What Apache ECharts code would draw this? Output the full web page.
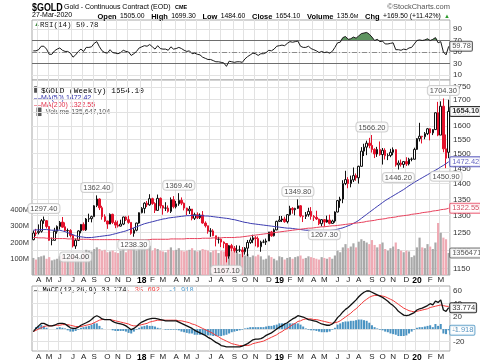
<!DOCTYPE html>
<html><head><meta charset="utf-8">
<script src="https://cdn.jsdelivr.net/npm/echarts@6/dist/echarts.min.js"></script>
<style>html,body{margin:0;padding:0;background:#fff}#c{width:480px;height:363px}</style>
</head><body><div id="c"></div>
<script>
// ---------------- DATA (weekly, 24-Mar-2017 .. 27-Mar-2020) ----------------
const opens = [
1230,1249,1250,1254,1286,1285,1268,1228,1228,1254,1268,1281,1267,1256,1256,1242,1212,1228,1255,1274,
1258,1290,1291,1297,1331,1351,1324,1297,1284,1275,1304,1280,1272,1269,1275,1296,1288,1280,1248,1257,1278,
1309,1322,1338,1333,1352,1337,1316,1353,1330,1323,1323,1313,1349,1327,1336,1347,1338,1323,1315,1320,
1292,1303,1294,1302,1278,1270,1254,1255,1241,1231,1231,1223,1219,1184,1213,1206,1199,1201,1201,1196,
1206,1222,1229,1235,1233,1210,1223,1223,1226,1252,1241,1258,
1283,1287,1290,1282,1303,1322,1318,1322,1330,1299,1298,1303,1313,1298,1295,1290,1276,1288,1281,1287,
1277,1284,1311,1346,1351,1400,1413,1400,1412,1426,1419,1457,1509,1523,1537,1529,1515,1499,1515,1497,
1512,1493,1494,1505,1514,1462,1468,1463,1473,1465,1481,1481,
1515,1553,1562,1560,1571,1589,1574,1586,1649,1566,1674,1517,1505];
const highs = [
1256,1261,1274,1290,1297.4,1287,1269,1236,1264,1271,1284,1296,1280,1262,1260,1245,1233,1257,1275,1280,
1293,1306,1300,1332,1362.4,1353,1330,1304,1285,1307,1306,1286,1285,1288,1297,1298,1300,1280,1263,1279,1310,
1326,1341,1345,1366,1355,1341,1365,1356,1332,1341,1331,1356,1360,1345,1369.4,1356,1340,1324,1329,1320,
1309,1310,1307,1314,1283,1270,1263,1260,1241,1238,1233,1225,1220,1215,1218,1212,1214,1213,1209,1209,
1229,1236,1244,1240,1239,1227,1230,1233,1252,1255,1262,1285,
1299,1299,1297,1305,1330,1326,1324,1349.8,1332,1300,1311,1324,1326,1302,1315,1291,1290,1290,1300,1303,
1288,1313,1348,1358,1411,1442,1421,1426,1453,1433,1459,1523,1535,1546,1556,1566.2,1519,1524,1543,1520,
1519,1501,1517,1522,1516,1477,1480,1475,1488,1486,1487,1521,
1555,1611,1563,1577,1592,1590,1588,1650,1691,1693,1704.3,1568,1699.3];
const lows = [
1228,1240,1245,1250,1276,1262,1227,1214,1228,1247,1259,1264,1252,1237,1236,1208,1204,1226,1248,1256,
1255,1281,1280,1297,1326,1317,1288,1281,1261,1275,1275,1263,1265,1268,1272,1284,1276,1244,1238.3,1254,1276,
1307,1307,1326,1330,1333,1308,1315,1322,1303,1314,1309,1308,1322,1322,1330,1332,1316,1302,1305,1286,
1287,1290,1290,1276,1265,1247,1238,1240,1211,1219,1209,1206,1167.1,1177,1197,1194,1193,1195,1181,1188,
1184,1218,1220,1211,1208,1196,1220,1215,1226,1238,1239,1257,
1281,1281,1279,1277,1300,1306,1301,1320,1295,1281,1290,1297,1288,1284,1287,1272,1268,1267.3,1279,1274,
1276,1279,1310,1324,1338,1395,1385,1388,1405,1409,1400,1456,1492,1495,1519,1504,1485,1489,1493,1463,
1480,1478,1488,1495,1456,1446.2,1456,1452,1458,1460,1474,1480,
1513,1543,1536,1551,1566,1547,1566,1585,1562,1566,1505,1450.9,1484.6];
const closes = [
1249,1247,1254,1285,1288,1268,1228,1228,1254,1268,1280,1266,1256,1256,1242,1212,1228,1255,1274,1258,
1290,1291,1297,1330,1351,1324,1297,1284,1275,1304,1280,1272,1269,1275,1296,1288,1280,1248,1257,1278,1309,
1322,1338,1333,1352,1337,1316,1353,1330,1323,1323,1313,1349,1327,1336,1347,1338,1323,1315,1320,1292,
1303,1294,1302,1278,1270,1254,1255,1241,1231,1231,1223,1219,1184,1213,1206,1199,1201,1201,1196,1206,
1222,1229,1235,1233,1210,1223,1223,1226,1252,1241,1258,1283,
1287,1290,1282,1303,1322,1318,1322,1330,1299,1298,1303,1313,1298,1295,1290,1276,1288,1281,1287,1277,
1284,1311,1346,1351,1400,1413,1400,1412,1426,1419,1457,1509,1523,1537,1529,1515,1499,1515,1497,1512,
1493,1494,1505,1514,1462,1468,1463,1473,1465,1481,1481,1515,
1553,1562,1560,1571,1589,1574,1586,1649,1566,1674,1517,1484.6,1654.1];
// volume in millions of contracts
const volumeM = [
105,95,110,115,120,100,110,90,95,100,115,120,95,100,110,125,115,105,120,140,
155,150,145,160,170,160,150,155,140,145,150,140,135,150,165,140,160,175,170,150,170,
180,175,160,180,150,165,160,150,145,140,155,170,150,155,165,150,145,150,155,165,
150,145,150,160,155,150,140,150,155,135,150,145,170,160,145,150,140,130,140,120,
130,110,120,115,125,115,95,100,120,110,100,90,
115,110,95,105,110,100,110,115,120,100,105,115,110,105,100,95,110,105,100,110,
100,120,150,140,170,190,165,175,195,170,205,220,210,200,190,215,185,170,190,200,
160,150,165,175,200,160,150,140,150,145,110,120,
170,230,170,165,190,175,160,200,320,260,230,220,135.647104];
const ma50 = [
1257,1258,1258,1259,1259,1259,1258,1257,1257,1257,1257,
1255,1253,1250,1247,1244,1241,1239,1238,1237,1236,1236,1236,
1237,1238,1239,1240,1241,1242,1243,1245,1247,1249,1251,1253,1255,
1258,1261,1264,1267,1270,1273,1276,1278,1280,1282,1284,1286,1288,1290,1291,
1293,1294,1295,1296,1297,1298,1299,1300,1300,1301,1301,1300,1300,
1300,1299,1299,1298,1297,1296,1295,1294,1293,1292,1291,1289,1288,1286,1284,
1282,1280,1279,1277,1276,1275,1274,1273,1272,1271,1270,1269,1268,1267,1266,1265,1264,1263,1263,1262,
1261,1260,1259,1258,1257,1257,1256,1256,1255,1255,1255,1255,1256,1256,1257,
1258,1260,1262,1264,1267,1270,1273,1277,1281,1286,1292,1298,
1304,1310,1316,1322,1328,1334,1340,1346,1351,1356,1361,1366,1371,1376,1381,
1387,1393,1398,1404,1409,1414,1419,1424,1429,1434,1439,1444,1449,1455,1460,1466,1472.42];
const ma200 = [
1236,1236,1235,1235,1235,1234,1234,1234,1233,1233,1233,1233,1233,1232,1232,1232,1232,1231,1231,1231,1231,
1231,1230,1230,1230,1230,1230,1230,1230,1230,1230,1230,1230,1230,1230,1230,1230,1230,1230,1230,1230,
1230,1230,1230,1230,1231,1231,1231,1231,1231,1231,1231,1232,1232,1232,1232,1232,1232,1233,1233,1233,
1233,1233,1233,1234,1234,1234,1234,1235,1235,1235,1235,1236,1236,1236,1236,1236,1237,1237,1238,1239,
1240,1241,1242,1243,1244,1245,1246,1247,1248,1249,1250,1251,1252,1253,1254,1255,1256,1257,1258,1259,
1260,1261,1262,1263,1263,1264,1265,1266,1267,1267,1268,1269,1270,1270,1271,1272,1273,1274,1275,1276,
1277,1278,1279,1280,1281,1283,1284,1285,1286,1288,1289,1290,1291,1293,1294,1295,1296,1298,1299,1300,
1301,1302,1304,1305,1306,1307,1309,1310,1311,1312,1314,1315,1316,1318,1319,1320,1322.55];
const rsi14 = [
52,52,54,60,60,55,46,46,52,55,57,53,51,51,48,41,45,51,55,51,
58,58,59,65,68,59,52,49,48,54,49,48,47,49,53,51,50,44,47,51,57,
59,61,60,63,59,55,61,56,55,55,53,59,55,56,58,56,53,51,52,47,
48,46,45,41,39,37,37,35,33,33,32,31,25,34,33,32,33,33,32,38,
42,45,48,47,44,47,47,49,53,52,55,60,
61,62,61,65,68,67,68,69,60,58,58,60,56,54,52,49,51,49,50,48,
51,58,66,67,75,77,72,73,76,74,78,82,83,84,81,76,70,72,68,69,
64,64,65,66,54,54,53,55,54,57,58,64,
70,71,70,71,73,70,72,75,66,68,50,45,59.78];
const macdLine = [
-4,1,5,9,9,7,5,5,6,8,9,9,8,5,2,1,1,3,6,8,
10,12,15,19,21,19,16,15,15,15,12,10,9,8,7,5,2,-1,1,4,8,
11,13,15,16,17,17,16,15,14,13,13,13,13,13,11,9,7,5,3,1,
-2,-4,-6,-8,-10,-13,-15,-18,-21,-23,-26,-27,-28,-28,-28,-28,-28,-28,-27,-25,
-23,-20,-17,-16,-16,-15,-13,-10,-8,-6,-3,0,
3,5,8,10,13,16,18,21,20,19,17,15,14,13,12,10,8,7,6,6,
8,12,18,22,27,31,34,38,42,46,51,55,58,60,60,58,56,54,52,50,
47,44,40,37,33,28,25,22,21,22,24,26,
30,32,33,35,37,40,38,44,42,46,30,28,33.774];
const signalLine = [
-4,-2,0,2,4,5,5,5,6,6,6,7,7,7,6,5,4,4,4,5,
6,7,8,10,12,14,15,15,15,15,14,13,12,11,10,9,8,6,5,5,6,
7,8,9,11,12,13,14,14,14,14,14,14,14,14,13,13,12,11,10,8,
7,5,3,1,-1,-3,-5,-7,-10,-12,-15,-17,-19,-21,-23,-24,-25,-26,-26,-26,
-26,-25,-23,-22,-21,-20,-19,-17,-15,-13,-11,-9,
-6,-4,-1,1,4,7,9,12,13,15,16,16,16,15,15,14,13,12,11,10,
9,10,11,13,16,19,22,25,29,32,36,40,44,47,50,52,53,53,53,52,
51,49,47,45,42,39,36,33,31,29,28,27,
28,29,30,31,32,34,35,36,37,38,37,36,35.692];
const macdHist = [
0,3,5,7,5,2,0,0,0,2,3,2,1,-2,-4,-4,-3,-1,2,3,
4,5,7,9,9,5,1,0,0,0,-2,-3,-3,-3,-3,-4,-6,-7,-4,-1,2,
4,5,6,5,5,4,2,1,0,-1,-1,-1,-1,-1,-2,-4,-5,-6,-7,-7,
-9,-9,-9,-9,-9,-10,-10,-11,-11,-11,-11,-10,-9,-7,-5,-4,-3,-2,-1,1,
2,3,3,3,3,3,3,4,5,5,6,7,
9,9,9,9,9,9,9,9,7,4,1,-1,-2,-2,-3,-4,-5,-5,-5,-4,
-1,2,7,9,11,12,12,13,13,14,15,15,14,13,10,6,3,1,-1,-2,
-4,-5,-7,-8,-9,-11,-11,-11,-10,-7,-4,-1,
2,3,3,4,5,6,3,8,5,8,-7,-8,-1.918];
const priceTicks = [1150,1200,1250,1300,1350,1400,1450,1500,1550,1600,1650,1700,1750];
const rsiTicks = [10,30,50,70,90];
const macdTicks = [-20,0,20,40,60];
const peakIdx = [4,24,55,100,128,155];
const troughIdx = [16,38,73,110,138,156];

// ---------------- BUILD ----------------
const N = closes.length;
const weeks = [];
for (let i = 0; i < N; i++) {
  const d = new Date(Date.UTC(2017, 2, 24 + 7 * i));
  weeks.push(d.toISOString().slice(0, 10));
}
const isMonthStart = weeks.map((w, i) => i > 0 && w.slice(5, 7) !== weeks[i - 1].slice(5, 7));
const monthLabel = v => {
  const m = +v.slice(5, 7);
  return m === 1 ? '{y|' + v.slice(2, 4) + '}' : 'JFMAMJJASOND'[m - 1];
};
const L = Math.log;
const FONT = '"Liberation Sans", Arial, sans-serif';
const MONO = '"Liberation Mono", "DejaVu Sans Mono", monospace';
const GRID_LINE = '#e2e2e2';

const grids = [
  {left: 32, right: 30, top: 20, height: 60},
  {left: 32, right: 30, top: 80, height: 195},
  {left: 32, right: 30, top: 286, height: 65}
].map(g => Object.assign(g, {show: true, borderColor: '#a8a8a8', borderWidth: 1, backgroundColor: '#fff'}));

const xAxes = [0, 1, 2].map(gi => ({
  type: 'category', gridIndex: gi, data: weeks, boundaryGap: true,
  axisLine: {show: false}, axisTick: {show: false},
  axisLabel: {
    show: gi > 0, interval: i => isMonthStart[i], formatter: v => monthLabel(v),
    fontSize: 8, color: '#222', fontFamily: FONT, margin: gi === 1 ? 1 : 2,
    rich: {y: {fontWeight: 'bold', fontSize: 8.5, color: '#000', fontFamily: FONT}}
  },
  splitLine: {show: true, interval: i => isMonthStart[i], lineStyle: {color: GRID_LINE, width: 1}}
}));

const rightLabel = {fontSize: 8, color: '#333', fontFamily: FONT, margin: 3};
const yAxes = [
  { // RSI
    type: 'value', gridIndex: 0, position: 'right', min: 1.3, max: 105.65,
    axisLine: {show: false}, axisTick: {show: false, customValues: rsiTicks},
    axisLabel: Object.assign({customValues: rsiTicks}, rightLabel),
    splitLine: {show: true, lineStyle: {color: GRID_LINE}}
  },
  { // price (log)
    type: 'value', gridIndex: 1, position: 'right', min: L(1133.5), max: L(1778.5),
    axisLine: {show: false}, axisTick: {show: false, customValues: priceTicks.map(L)},
    axisLabel: Object.assign({customValues: priceTicks.map(L), formatter: v => String(Math.round(Math.exp(v)))}, rightLabel),
    splitLine: {show: true, lineStyle: {color: GRID_LINE}}
  },
  { // volume
    type: 'value', gridIndex: 1, position: 'left', min: 0, max: 1200, interval: 100,
    axisLine: {show: false}, axisTick: {show: false}, splitLine: {show: false},
    axisLabel: {formatter: v => (v >= 100 && v <= 400) ? v + 'M' : '', fontSize: 7.5, color: '#333', fontFamily: FONT, margin: 3}
  },
  { // MACD
    type: 'value', gridIndex: 2, position: 'right', min: -34.6, max: 67.9,
    axisLine: {show: false}, axisTick: {show: false, customValues: macdTicks},
    axisLabel: Object.assign({customValues: macdTicks}, rightLabel),
    splitLine: {show: true, lineStyle: {color: GRID_LINE}}
  }
];

function tag(xi, yi, y, text, border, color, bold) {
  return {
    type: 'scatter', xAxisIndex: xi, yAxisIndex: yi, symbolSize: 1, silent: true, z: 20,
    itemStyle: {color: 'rgba(0,0,0,0)'}, data: [[N - 1, y]],
    label: {
      show: true, position: 'right', distance: 1, formatter: text, fontSize: 7.5, fontFamily: FONT,
      color: color, fontWeight: bold ? 'bold' : 'normal', backgroundColor: '#fff',
      borderColor: border, borderWidth: 1, borderRadius: 1, padding: [1, 1, 0, 2]
    }
  };
}
const annoLabel = {
  show: true, fontSize: 7.5, fontFamily: FONT, color: '#222', backgroundColor: '#fff',
  borderColor: '#c4c4c4', borderWidth: 1, borderRadius: 3, padding: [1, 2, 0, 2]
};
const candleData = closes.map((c, i) => [L(opens[i]), L(c), L(lows[i]), L(highs[i])]);
const volData = volumeM.map((v, i) => ({
  value: v, itemStyle: {color: closes[i] >= opens[i] ? '#a9a9a9' : '#efaab4'}
}));

const series = [
  { name: 'RSI', type: 'line', xAxisIndex: 0, yAxisIndex: 0, data: rsi14, symbol: 'none', z: 5,
    lineStyle: {color: '#1a1a1a', width: 1},
    markLine: { silent: true, symbol: 'none', label: {show: false},
      data: [
        {yAxis: 70, lineStyle: {color: '#6e6e6e', width: 1, type: 'solid'}},
        {yAxis: 30, lineStyle: {color: '#6e6e6e', width: 1, type: 'solid'}},
        {yAxis: 50, lineStyle: {color: '#8c8c8c', width: 1, type: [5, 2, 1, 2]}}
      ] } },
  // fill of the RSI zone above 70 (values at or below 70 are drawn on the 70 line, i.e. no area)
  { name: 'RSIfill', type: 'line', xAxisIndex: 0, yAxisIndex: 0, data: rsi14.map(v => Math.max(v, 70)),
    symbol: 'none', z: 4, lineStyle: {width: 0}, areaStyle: {origin: 70, opacity: 1, color: '#5e9460'} },
  { name: 'GOLD', type: 'candlestick', xAxisIndex: 1, yAxisIndex: 1, data: candleData, z: 4, barWidth: 2,
    itemStyle: {color: '#ffffff', borderColor: '#111', color0: '#e4122c', borderColor0: '#e4122c', borderWidth: 1} },
  { name: 'MA50', type: 'line', xAxisIndex: 1, yAxisIndex: 1, data: ma50.map(L), symbol: 'none', z: 5,
    lineStyle: {color: '#3b3bb0', width: 1} },
  { name: 'MA200', type: 'line', xAxisIndex: 1, yAxisIndex: 1, data: ma200.map(L), symbol: 'none', z: 5,
    lineStyle: {color: '#e8415c', width: 1} },
  { name: 'Volume', type: 'bar', xAxisIndex: 1, yAxisIndex: 2, data: volData, barWidth: '82%', z: 1 },
  { name: 'peaks', type: 'scatter', xAxisIndex: 1, yAxisIndex: 1, symbolSize: 1, silent: true, z: 15,
    itemStyle: {color: 'rgba(0,0,0,0)'}, data: peakIdx.map(i => [i, L(highs[i])]),
    label: Object.assign({position: 'top', distance: 3, formatter: p => highs[p.data[0]].toFixed(2)}, annoLabel) },
  { name: 'troughs', type: 'scatter', xAxisIndex: 1, yAxisIndex: 1, symbolSize: 1, silent: true, z: 15,
    itemStyle: {color: 'rgba(0,0,0,0)'}, data: troughIdx.map(i => [i, L(lows[i])]),
    label: Object.assign({position: 'bottom', distance: 3, formatter: p => lows[p.data[0]].toFixed(2)}, annoLabel) },
  { name: 'Hist', type: 'bar', xAxisIndex: 2, yAxisIndex: 3, data: macdHist, barWidth: 2, z: 2,
    itemStyle: {color: '#4a93c2'} },
  { name: 'Signal', type: 'line', xAxisIndex: 2, yAxisIndex: 3, data: signalLine, symbol: 'none', z: 4,
    lineStyle: {color: '#f23b3b', width: 1} },
  { name: 'MACD', type: 'line', xAxisIndex: 2, yAxisIndex: 3, data: macdLine, symbol: 'none', z: 5,
    lineStyle: {color: '#111', width: 1.3} },
  tag(1, 1, L(closes[N - 1]), closes[N - 1].toFixed(2), '#000', '#000', true),
  tag(1, 1, L(ma50[N - 1]), ma50[N - 1].toFixed(2), '#3b3bb0', '#3b3bb0', false),
  tag(1, 1, L(ma200[N - 1]), ma200[N - 1].toFixed(2), '#e8415c', '#c8203a', false),
  tag(1, 2, volumeM[N - 1], String(Math.round(volumeM[N - 1] * 1e6)), '#555', '#333', false),
  tag(0, 0, rsi14[N - 1], rsi14[N - 1].toFixed(2), '#333', '#222', false),
  tag(2, 3, macdLine[N - 1], macdLine[N - 1].toFixed(3), '#000', '#000', false),
  tag(2, 3, macdHist[N - 1], macdHist[N - 1].toFixed(3), '#4a93c2', '#2a78b0', false)
];

const lastC = closes[N - 1], prevC = closes[N - 2];
const chg = lastC - prevC;
const fmtInt = n => String(Math.round(n)).replace(/\B(?=(\d{3})+(?!\d))/g, ',');
const graphics = [
  {type: 'text', left: 32, top: 2.5, scaleX: 0.85, style: {text: '$GOLD', font: 'bold 10.5px "Liberation Sans", sans-serif', fill: '#000'}},
  {type: 'text', left: 64, top: 3.5, style: {text: 'Gold - Continuous Contract (EOD)', font: '7px ' + FONT, fill: '#000'}},
  {type: 'text', left: 175, top: 4.5, style: {text: 'CME', font: 'bold 5.5px ' + FONT, fill: '#000'}},
  {type: 'text', right: 30, top: 3, style: {text: '\u00A9StockCharts.com', font: '7.5px ' + FONT, fill: '#555'}},
  {type: 'text', left: 32, top: 11.5, style: {text: '27-Mar-2020', font: '7px ' + FONT, fill: '#000'}},
  {type: 'text', right: 30, top: 10.5, style: {
    text: '{b|Open} {v|' + opens[N - 1].toFixed(2) + '}  {b|High} {v|' + highs[N - 1].toFixed(2) +
      '}  {b|Low} {v|' + lows[N - 1].toFixed(2) + '}  {b|Close} {v|' + lastC.toFixed(2) +
      '}  {b|Volume} {v|' + volumeM[N - 1].toFixed(1) + '}{m|M}  {b|Chg} {v|+' + chg.toFixed(2) +
      ' (+' + (chg / prevC * 100).toFixed(2) + '%)} {g|\u25B2}',
    rich: {
      b: {font: 'bold 7.5px ' + FONT, fill: '#000'},
      v: {font: '6.8px ' + FONT, fill: '#000'},
      m: {font: '5.5px ' + FONT, fill: '#000'},
      g: {font: '6px ' + FONT, fill: '#2a9a2a'}
    }}},
  // RSI legend
  {type: 'text', left: 34, top: 21, style: {text: '\u25B2', font: '6px ' + FONT, fill: '#3d8a3d'}},
  {type: 'text', left: 40, top: 21, style: {text: 'RSI(14) ' + rsi14[N - 1].toFixed(2), font: '7.5px ' + MONO, fill: '#111'}},
  // price legend
  {type: 'text', left: 34, top: 87, style: {text: '\u2AFC', font: 'bold 7px ' + FONT, fill: '#111'}},
  {type: 'text', left: 41, top: 86.5, style: {text: '$GOLD (Weekly) ' + lastC.toFixed(2), font: '7.8px ' + MONO, fill: '#000'}},
  {type: 'text', left: 34, top: 94.5, style: {text: '\u2014MA(50) ' + ma50[N - 1].toFixed(2), font: '7px ' + FONT, fill: '#2e2ea8'}},
  {type: 'text', left: 34, top: 101.5, style: {text: '\u2014MA(200) ' + ma200[N - 1].toFixed(2), font: '7px ' + FONT, fill: '#e0304a'}},
  {type: 'text', left: 34, top: 108.5, style: {text: '\u2590\u258C Volume ' + fmtInt(volumeM[N - 1] * 1e6), font: '7px ' + FONT, fill: '#555'}},
  // MACD legend
  {type: 'text', left: 34, top: 287, style: {
    text: '{k|\u2014 MACD(12,26,9) ' + macdLine[N - 1].toFixed(3) + '}{r|, ' + signalLine[N - 1].toFixed(3) + '}{c|, ' + macdHist[N - 1].toFixed(3) + '}',
    rich: {
      k: {font: '7px ' + MONO, fill: '#000'},
      r: {font: '7px ' + MONO, fill: '#f23b3b'},
      c: {font: '7px ' + MONO, fill: '#4a9ad0'}
    }}}
];

const chart = echarts.init(document.getElementById('c'), null, {renderer: 'canvas', width: 480, height: 363});
chart.setOption({
  animation: false,
  backgroundColor: '#fff',
  grid: grids,
  xAxis: xAxes,
  yAxis: yAxes,
  series: series,
  graphic: graphics
});
</script>
</body></html>
